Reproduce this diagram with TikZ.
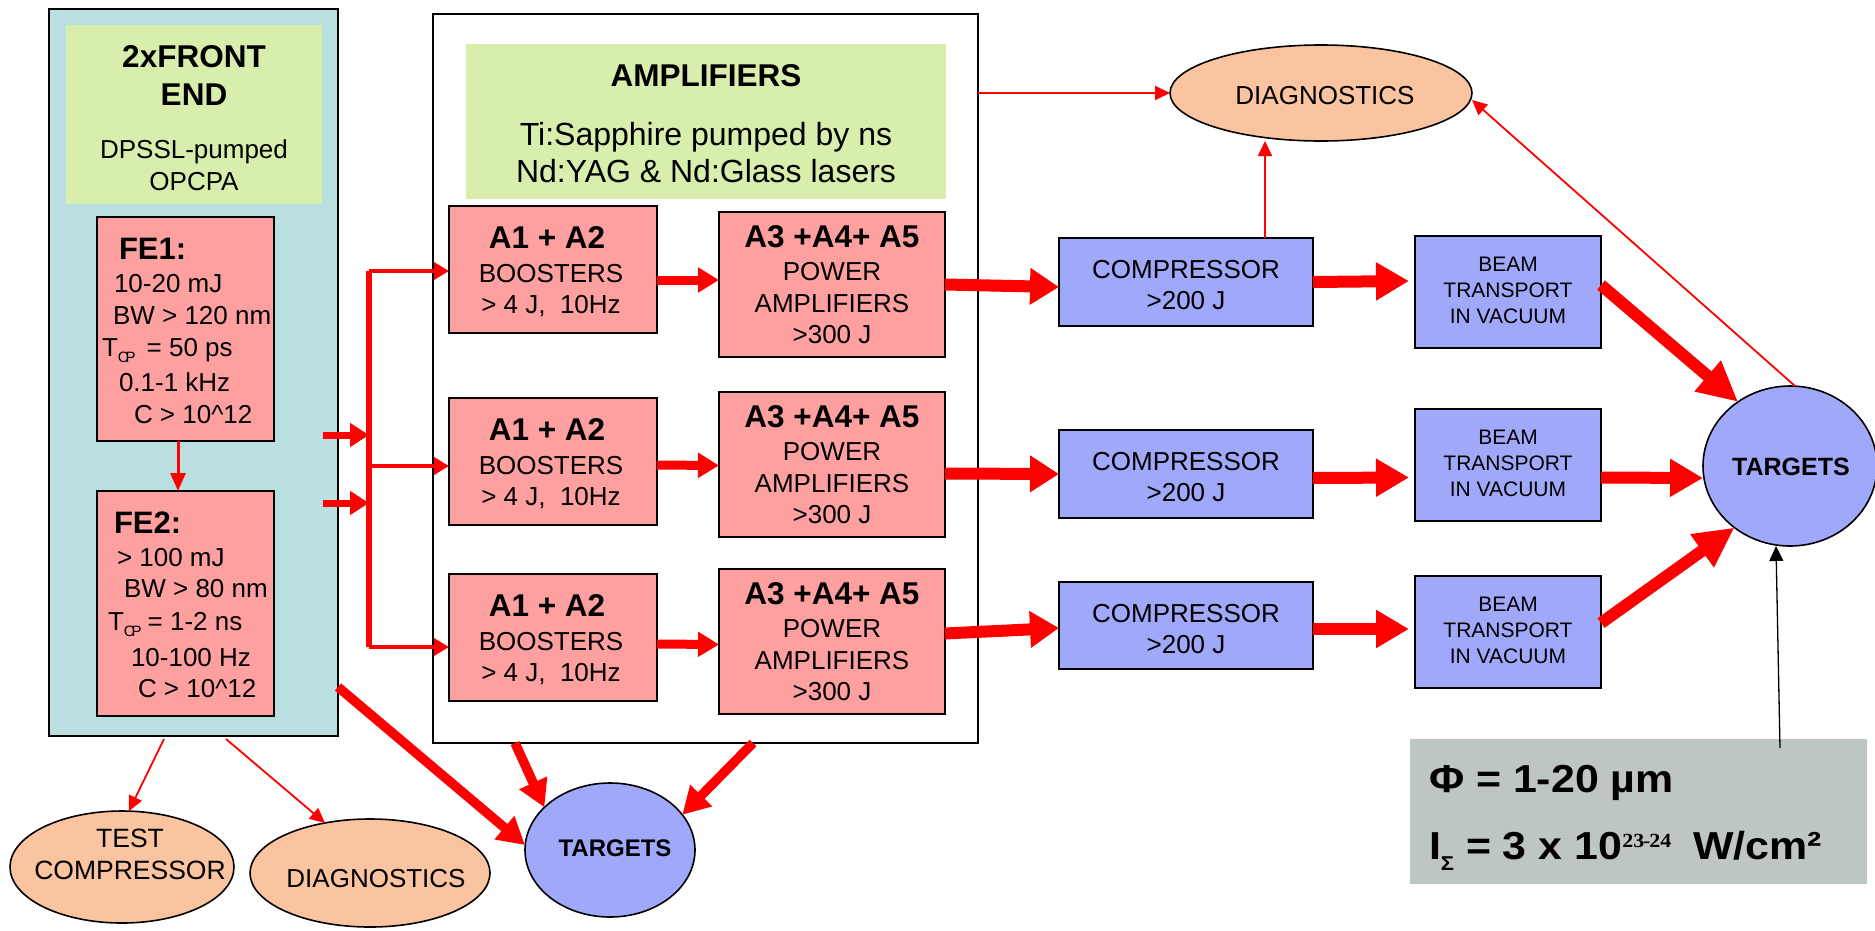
\documentclass[tikz,border=0pt]{standalone}
\usepackage{fontspec}
\setmainfont{Liberation Sans}
\newfontfamily\supserif{Liberation Serif}
\usetikzlibrary{arrows.meta,shapes.geometric,calc}

\definecolor{feblue}{RGB}{186,223,225}
\definecolor{headgreen}{RGB}{216,238,172}
\definecolor{ampred}{RGB}{255,160,160}
\definecolor{optblue}{RGB}{160,168,250}
\definecolor{diagorange}{RGB}{251,196,160}
\definecolor{specgray}{RGB}{190,198,196}

\newcommand\setfs[2]{\fontsize{#1}{#2}\selectfont}
\newcommand\tcp{\raisebox{-6pt}{\setfs{15}{15}C\kern-3pt P}}

\begin{document}
\begin{tikzpicture}[x=1pt,y=-1pt,
  every node/.style={inner sep=0pt, outer sep=0pt},
  frame/.style={draw=black, line width=1.6pt, anchor=north west},
  headbox/.style={fill=headgreen, anchor=north west},
  pinkbox/.style={draw=black, line width=1.8pt, fill=ampred, anchor=north west},
  bluebox/.style={draw=black, line width=1.8pt, fill=optblue, anchor=north west},
  oval/.style={ellipse, draw=black, line width=1.6pt},
  txt/.style={anchor=base, font=\setfs{26}{30}},
  ltxt/.style={anchor=base west, font=\setfs{26}{30}},
  htxt/.style={anchor=base, font=\bfseries\setfs{31.5}{36}},
  smalltxt/.style={anchor=base, font=\setfs{21}{24}},
  spectxt/.style={anchor=base west, font=\bfseries\setfs{39}{44}},
  bus/.style={draw=red, line width=6pt},
  feed/.style={draw=red, line width=7pt, -{Triangle[length=19pt,width=23pt]}},
  branch/.style={draw=red, line width=3.5pt, -{Triangle[length=15pt,width=17pt]}},
  stage/.style={draw=red, line width=9pt, -{Triangle[length=21pt,width=24pt]}},
  power/.style={draw=red, line width=12pt, -{Triangle[length=33pt,width=36pt]}},
  drop/.style={draw=red, line width=9.5pt, -{Triangle[length=27pt,width=29pt]}},
  tap/.style={draw=red, line width=1.8pt, -{Triangle[length=15pt,width=14pt]}},
  pointer/.style={draw=black, line width=1.3pt, -{Triangle[length=15pt,width=14pt]}}
]
\useasboundingbox (0,0) rectangle (1875,930);

% ---------- front end panel ----------
\node[frame, fill=feblue, minimum width=289pt, minimum height=727pt] (fe) at (49,9) {};
\node[headbox, minimum width=256pt, minimum height=179pt] (fehead) at (66,25) {};
\node[htxt] (feT1) at (194,67) {2xFRONT};
\node[htxt] (feT2) at (194,105) {END};
\node[txt] (feT3) at (194,158) {DPSSL-pumped};
\node[txt] (feT4) at (194,190) {OPCPA};

\node[pinkbox, minimum width=177pt, minimum height=224pt] (fe1) at (97,217) {};
\node[ltxt, font=\bfseries\setfs{31}{36}] (fe1a) at (119,259) {FE1:};
\node[ltxt] (fe1b) at (114,292) {10-20 mJ};
\node[ltxt] (fe1c) at (113,324) {BW > 120 nm};
\node[ltxt] (fe1d) at (102,356) {T\tcp\hspace{11pt}= 50 ps};
\node[ltxt] (fe1e) at (119,391) {0.1-1 kHz};
\node[ltxt] (fe1f) at (134,423) {C > 10\textasciicircum 12};

\node[pinkbox, minimum width=177pt, minimum height=225pt] (fe2) at (97,491) {};
\node[ltxt, font=\bfseries\setfs{31}{36}] (fe2a) at (114,533) {FE2:};
\node[ltxt] (fe2b) at (117,566) {> 100 mJ};
\node[ltxt] (fe2c) at (124,597) {BW > 80 nm};
\node[ltxt] (fe2d) at (108,630) {T\tcp\hspace{6pt}= 1-2 ns};
\node[ltxt] (fe2e) at (131,666) {10-100 Hz};
\node[ltxt] (fe2f) at (138,697) {C > 10\textasciicircum 12};

% ---------- amplifier panel ----------
\node[frame, fill=white, minimum width=545pt, minimum height=729pt] (amp) at (433,14) {};
\node[headbox, minimum width=480pt, minimum height=155pt] (amphead) at (466,44) {};
\node[htxt] (ampT1) at (706,86) {AMPLIFIERS};
\node[txt, font=\setfs{32}{37}] (ampT2) at (706,145) {Ti:Sapphire pumped by ns};
\node[txt, font=\setfs{32}{37}] (ampT3) at (706,182) {Nd:YAG \& Nd:Glass lasers};

\foreach \r/\ya/\yb in {a/206/212,b/398/392,c/574/569}{
  \node[pinkbox, minimum width=208pt, minimum height=127pt] (A1\r) at (449,\ya) {};
  \node[htxt] (A1\r-1) at (547,{\ya+42}) {A1 + A2};
  \node[txt] (A1\r-2) at (551,{\ya+76}) {BOOSTERS};
  \node[txt] (A1\r-3) at (551,{\ya+107}) {> 4 J,\ \ 10Hz};
  \node[pinkbox, minimum width=226pt, minimum height=145pt] (A3\r) at (719,\yb) {};
  \node[htxt] (A3\r-1) at (832,{\yb+35}) {A3 +A4+ A5};
  \node[txt] (A3\r-2) at (832,{\yb+68}) {POWER};
  \node[txt] (A3\r-3) at (832,{\yb+100}) {AMPLIFIERS};
  \node[txt] (A3\r-4) at (832,{\yb+131}) {>300 J};
}

% ---------- compressors and beam transport ----------
\foreach \r/\yc/\hc/\yt in {a/238/88/236,b/430/88/409,c/582/87/576}{
  \node[bluebox, minimum width=254pt, minimum height=\hc pt] (comp\r) at (1059,\yc) {};
  \node[txt] (comp\r-1) at (1186,{\yc+40}) {COMPRESSOR};
  \node[txt] (comp\r-2) at (1186,{\yc+71}) {>200 J};
  \node[bluebox, minimum width=186pt, minimum height=112pt] (BT\r) at (1415,\yt) {};
  \node[smalltxt] (BT\r-1) at (1508,{\yt+35}) {BEAM};
  \node[smalltxt] (BT\r-2) at (1508,{\yt+61}) {TRANSPORT};
  \node[smalltxt] (BT\r-3) at (1508,{\yt+87}) {IN VACUUM};
}

% ---------- ovals ----------
\node[oval, fill=diagorange, minimum width=302pt, minimum height=96pt] (diagT) at (1321,93) {};
\node[txt] (diagTt) at (1325,104) {DIAGNOSTICS};
\node[oval, fill=optblue, minimum width=174pt, minimum height=160pt] (tgtR) at (1790,466) {};
\node[txt, font=\bfseries\setfs{25}{30}] (tgtRt) at (1791,475) {TARGETS};
\node[oval, fill=optblue, minimum width=170pt, minimum height=134pt] (tgtB) at (610,850) {};
\node[txt, font=\bfseries\setfs{24}{28}] (tgtBt) at (615,856) {TARGETS};
\node[oval, fill=diagorange, minimum width=224pt, minimum height=112pt] (testc) at (122,867) {};
\node[txt, font=\setfs{26.5}{30}] (testct1) at (130,847) {TEST};
\node[txt, font=\setfs{26.5}{30}] (testct2) at (130,879) {COMPRESSOR};
\node[oval, fill=diagorange, minimum width=240pt, minimum height=108pt] (diagB) at (370,873) {};
\node[txt] (diagBt) at (376,887) {DIAGNOSTICS};

% ---------- focal spot figures ----------
\node[fill=specgray, anchor=north west, minimum width=457pt, minimum height=145pt] (spec) at (1410,739) {};
\node[spectxt] (spec1) at (1429,792) {\scalebox{1.1}[1]{Φ = 1-20 µm}};
\node[spectxt] (spec2) at (1429,859)
  {\scalebox{1.1}[1]{I\raisebox{-11pt}{\setfs{20}{20}Σ} = 3 x 10\raisebox{12pt}{\supserif\bfseries\setfs{20}{20}23\kern-1pt-\kern-1pt 24}\hspace{20pt}W/cm²}};

% ---------- front end to amplifier chains ----------
\coordinate (busTop) at (369,271);
\coordinate (busMid) at (369,466);
\coordinate (busBot) at (369,647);
\coordinate (feedA) at (323,435);
\coordinate (feedB) at (323,503);
\draw[bus] (busTop) -- (busBot);
\draw[feed] (feedA) -- (feedA -| busTop);
\draw[feed] (feedB) -- (feedB -| busTop);
\draw[branch] (busTop) -- (busTop -| A1a.west);
\draw[branch] (busMid) -- (busMid -| A1b.west);
\draw[branch] (busBot) -- (busBot -| A1c.west);
\draw[tap, line width=3pt, -{Triangle[length=18pt,width=15pt]}] ([xshift=-7.5]fe1.south) -- ([xshift=-7.5]fe2.north);

% boosters to power amplifiers
\draw[stage] ([yshift=-10.5]A1a.east) -- ([yshift=4.5]A3a.west);
\draw[stage] ([yshift=-3.5]A1b.east) -- ([yshift=-1]A3b.west);
\draw[stage] ([yshift=-6.5]A1c.east) -- ([yshift=-3]A3c.west);

% power amplifiers to compressors
\draw[power, -{Triangle[length=29pt,width=35pt]}] (A3a.east) -- ([yshift=-5]compa.west);
\draw[power, -{Triangle[length=29pt,width=35pt]}] ([yshift=-9]A3b.east) -- (compb.west);
\draw[power, -{Triangle[length=29pt,width=35pt]}] ([yshift=8]A3c.east) -- ([yshift=-2.5]compc.west);

% compressors to beam transport
\draw[power] (compa.east) -- ([xshift=-6,yshift=11]BTa.west);
\draw[power] ([yshift=-4]compb.east) -- ([xshift=-6,yshift=-12.5]BTb.west);
\draw[power] ([yshift=-3.5]compc.east) -- ([xshift=-6,yshift=3]BTc.west);

% beam transport to targets
\draw[power, -{Triangle[length=40pt,width=38pt]}] ([yshift=7]BTa.east) -- (tgtR.129);
\draw[power] ([yshift=-12.5]BTb.east) -- ([yshift=-12]tgtR.west);
\draw[power, -{Triangle[length=40pt,width=38pt]}] ([yshift=9]BTc.east) -- (tgtR.228);

% diagnostics taps
\draw[tap] ([yshift=-79]amp.north east) -- (diagT.west);
\draw[tap] ([xshift=79]compa.north) -- ([xshift=-56]diagT.south);
\draw[tap] ([xshift=5]tgtR.north) -- ([yshift=-7]diagT.east);
\draw[tap] ([xshift=-29.5,yshift=-3]fe.south) -- (testc.83);
\draw[tap] ([xshift=32.5,yshift=-3]fe.south) -- (diagB.132);

% direct beams to the lower targets
\draw[drop] ([yshift=49]fe.south east) -- ([yshift=5]tgtB.west);
\draw[drop] ([xshift=82]amp.south west) -- (tgtB.147);
\draw[drop] ([xshift=-225]amp.south east) -- (tgtB.26);

% focal spot pointer
\draw[pointer] ([xshift=141.5,yshift=-9]spec.north) -- ([xshift=-14]tgtR.south);
\end{tikzpicture}
\end{document}
